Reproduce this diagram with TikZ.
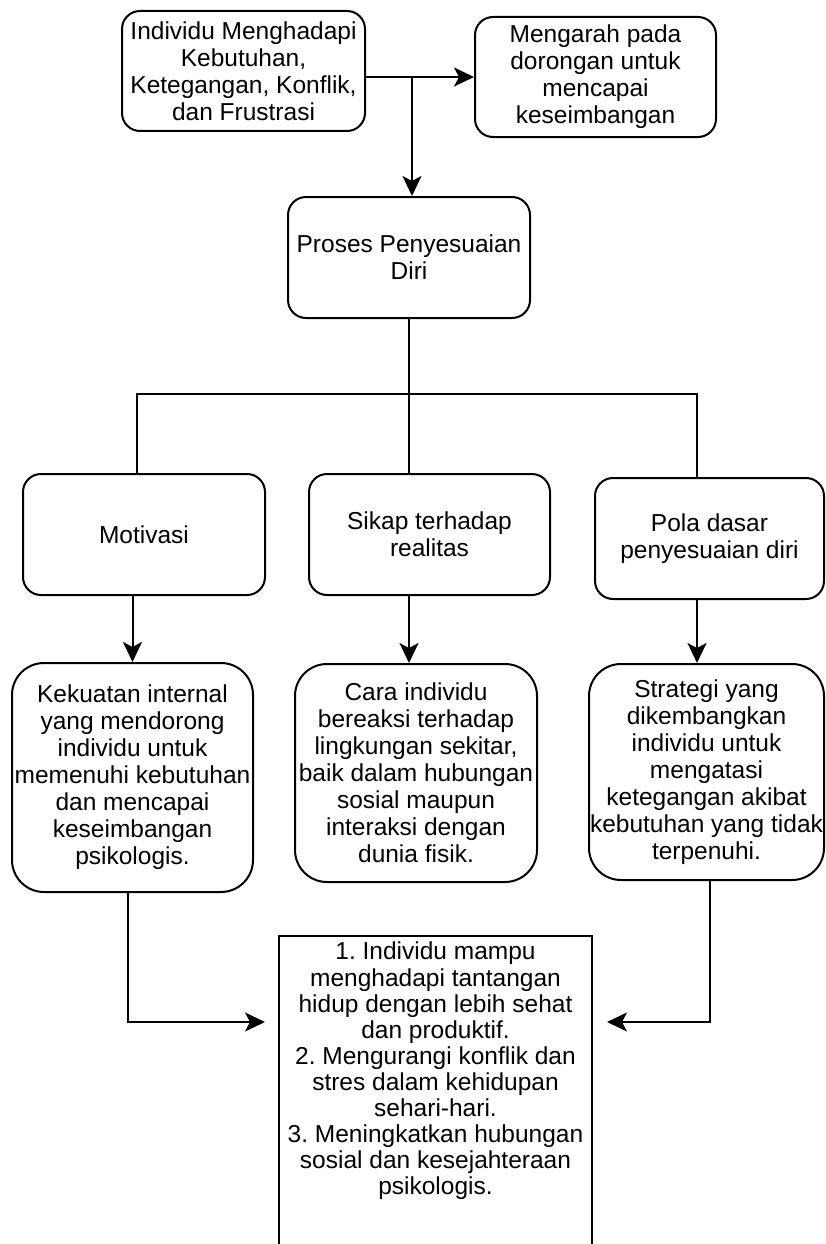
\documentclass[tikz,border=0pt]{standalone}
\usepackage{fontspec}
\setmainfont{Liberation Sans}
\usetikzlibrary{arrows.meta}
\begin{document}
\frenchspacing
\begin{tikzpicture}[x=1pt,y=-1pt,
  rbox/.style={draw, line width=2pt, align=center, inner sep=0pt, text=black,
    font=\fontsize{24.5}{27}\selectfont},
  small/.style={rbox, rounded corners=18pt, minimum height=121pt},
  tall/.style={rbox, rounded corners=32pt},
  conn/.style={line width=2pt},
  arr/.style={line width=2pt, -{Stealth[length=20pt, width=19pt, inset=5pt]}},
  txt/.style={align=center, inner sep=0pt, text=black, font=\fontsize{24.5}{26.1}\selectfont}]
\clip (0,0) rectangle (826,1244);
\fill[white] (0,0) rectangle (826,1244);
% top row
\node[small, minimum width=243pt, minimum height=120pt] (A) at (243.5,71) {Individu Menghadapi\\Kebutuhan,\\Ketegangan, Konflik,\\dan Frustrasi};
\node[small, minimum width=241pt, minimum height=120pt] (B) at (595.5,77) {Mengarah pada\\dorongan untuk\\mencapai\\keseimbangan};
\node[small, minimum width=242pt] (C) at (409,257.5) {Proses Penyesuaian\\Diri};
% second row
\node[small, minimum width=242pt] (M) at (144,534.5) {Motivasi};
\node[small, minimum width=241pt] (S) at (429.5,534.5) {Sikap terhadap\\realitas};
\node[small, minimum width=229pt] (P) at (709.5,538.5) {Pola dasar\\penyesuaian diri};
% third row
\node[tall, minimum width=241pt, minimum height=229pt] (K) at (132.5,777.5) {Kekuatan internal\\yang mendorong\\individu untuk\\memenuhi kebutuhan\\dan mencapai\\keseimbangan\\psikologis.};
\node[tall, minimum width=242pt, minimum height=218pt] (Cr) at (416,773) {Cara individu\\bereaksi terhadap\\lingkungan sekitar,\\baik dalam hubungan\\sosial maupun\\interaksi dengan\\dunia fisik.};
\node[tall, minimum width=235pt, minimum height=216pt] (St) at (706.5,772) {Strategi yang\\dikembangkan\\individu untuk\\mengatasi\\ketegangan akibat\\kebutuhan yang tidak\\terpenuhi.};
% result box (runs past the bottom edge)
\node[draw, line width=2pt, minimum width=313pt, minimum height=340pt, inner sep=0pt, anchor=north] (R) at (435.5,935) {};
\node[txt, anchor=north] (Rt) at ([yshift=-7pt]R.north) {1. Individu mampu\\menghadapi tantangan\\hidup dengan lebih sehat\\dan produktif.\\2. Mengurangi konflik dan\\stres dalam kehidupan\\sehari-hari.\\3. Meningkatkan hubungan\\sosial dan kesejahteraan\\psikologis.};
% connectors
\coordinate (j1) at (412,77);
\draw[arr] (A.east |- B.west) -- (B.west);
\draw[arr] (j1) -- (j1 |- C.north);
\coordinate (busL) at (137,394);
\coordinate (busR) at (697,394);
\draw[conn] (C.south) -- (C.south |- S.north);
\draw[conn] (busL |- M.north) -- (busL) -- (busR) -- (busR |- P.north);
\draw[arr] (K.north |- M.south) -- (K.north);
\draw[arr] (C.south |- S.south) -- (C.south |- Cr.north);
\draw[arr] (busR |- P.south) -- (busR |- St.north);
\coordinate (inL) at (265,1022);
\coordinate (inR) at (607,1022);
\coordinate (kdrop) at (128,0);
\coordinate (sdrop) at (710,0);
\draw[arr] (kdrop |- K.south) |- (inL);
\draw[arr] (sdrop |- St.south) |- (inR);
\end{tikzpicture}
\end{document}
